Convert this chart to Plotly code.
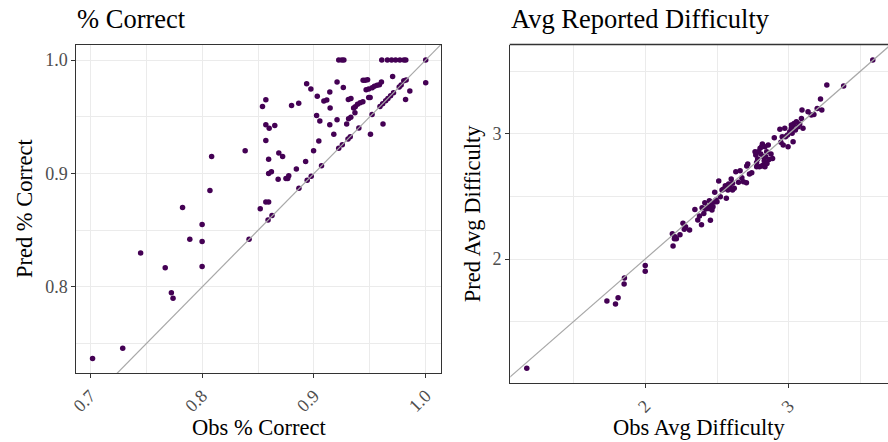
import plotly.graph_objects as go

# ---- Data: % Correct panel ----
obs_correct = [0.702, 0.729, 0.745, 0.767, 0.7725, 0.774, 0.7825, 0.789, 0.800, 0.800,
               0.800, 0.807, 0.8085, 0.8385, 0.842, 0.852, 0.854, 0.857, 0.857, 0.857,
               0.857, 0.8595, 0.859, 0.8625, 0.860, 0.8595, 0.8595, 0.862, 0.865, 0.868,
               0.8686, 0.872, 0.875, 0.8766, 0.8775, 0.880, 0.8843, 0.8864, 0.8866, 0.8926,
               0.8935, 0.894, 0.8976, 0.8973, 0.8997, 0.9024, 0.903, 0.9044, 0.9053, 0.9068,
               0.9089, 0.9115, 0.9142, 0.9145, 0.9142, 0.9178, 0.9222, 0.925, 0.9268, 0.9207,
               0.9207, 0.9263, 0.9222, 0.9254, 0.9305, 0.9325, 0.9293, 0.931, 0.933, 0.9308,
               0.9331, 0.9355, 0.937, 0.939, 0.9367, 0.9402, 0.9414, 0.9438, 0.944, 0.9459,
               0.948, 0.9467, 0.949, 0.949, 0.9503, 0.9506, 0.952, 0.9521, 0.9541, 0.9565,
               0.9586, 0.9604, 0.9607, 0.9618, 0.9591, 0.9615, 0.9642, 0.9662, 0.9686, 0.9712,
               0.9763, 0.978, 0.9804, 0.9825, 0.9657, 0.9695, 0.9731, 0.9769, 0.9805, 0.9822,
               0.9704, 0.982, 0.9858, 1.0, 1.0]
pred_correct = [0.737, 0.746, 0.830, 0.817, 0.795, 0.790, 0.870, 0.842, 0.855, 0.840,
                0.818, 0.885, 0.915, 0.920, 0.842, 0.869, 0.959, 0.965, 0.943, 0.929,
                0.875, 0.875, 0.859, 0.863, 0.940, 0.9125, 0.900, 0.9016, 0.9424, 0.895,
                0.918, 0.915, 0.8957, 0.8957, 0.898, 0.960, 0.904, 0.962, 0.887, 0.9107,
                0.979, 0.894, 0.8976, 0.9744, 0.920, 0.9512, 0.968, 0.9286, 0.9463, 0.9068,
                0.9639, 0.9648, 0.9718, 0.9577, 0.943, 0.9345, 1.0, 1.0, 1.0, 0.9806,
                0.9474, 0.9759, 0.9222, 0.9254, 0.9305, 0.9325, 0.9436, 0.9483, 0.9495, 0.9653,
                0.9662, 0.9577, 0.9589, 0.961, 0.9536, 0.9402, 0.9624, 0.9633, 0.9821, 0.9821,
                0.9827, 0.9739, 0.9744, 0.9671, 0.9671, 0.9345, 0.952, 0.9756, 0.9768, 0.9777,
                0.9783, 0.9806, 1.0, 0.9436, 0.9591, 0.9615, 0.9642, 0.9662, 0.9686, 0.9712,
                0.9763, 0.978, 0.9818, 0.9825, 1.0, 1.0, 1.0, 1.0, 1.0, 1.0,
                0.9856, 0.9653, 0.9727, 1.0, 0.98]

# ---- Data: Avg Reported Difficulty panel ----
obs_diff = [1.175, 1.733, 1.793, 1.811, 1.853, 1.855, 2.0, 2.0,
            2.189, 2.194, 2.203, 2.217, 2.207, 2.242, 2.263, 2.272, 2.281, 2.309,
            2.346, 2.366, 2.378, 2.392, 2.396, 2.408, 2.415, 2.422, 2.433, 2.454,
            2.447, 2.459, 2.465, 2.472, 2.482, 2.484, 2.500, 2.512, 2.523, 2.535,
            2.546, 2.558, 2.569, 2.581, 2.592, 2.565, 2.599, 2.608, 2.620, 2.631,
            2.650, 2.661, 2.673, 2.684, 2.707, 2.714, 2.705, 2.726, 2.742, 2.770,
            2.776, 2.783, 2.788, 2.800, 2.795, 2.811, 2.823, 2.816, 2.834, 2.829,
            2.839, 2.846, 2.857, 2.862, 2.876, 2.887, 2.899, 2.938, 2.972, 2.945,
            2.961, 2.977, 2.991, 2.995, 3.007, 3.018, 3.030, 3.037, 3.030, 3.046,
            3.065, 3.088, 3.099, 3.092, 3.134, 3.157, 3.175, 3.198, 3.221, 3.230,
            3.265, 3.382, 3.585,
            2.765, 2.806, 2.823, 2.776, 2.834, 2.848, 2.811, 2.442, 2.493, 2.576,
            2.585, 2.608, 3.018, 3.053, 3.076, 3.023, 2.954]
pred_diff = [1.128, 1.665, 1.641, 1.691, 1.800, 1.848, 1.949, 1.902,
             2.202, 2.104, 2.162, 2.162, 2.178, 2.194, 2.285, 2.237, 2.258, 2.231,
             2.396, 2.311, 2.343, 2.274, 2.410, 2.364, 2.449, 2.399, 2.418, 2.309,
             2.465, 2.431, 2.391, 2.418, 2.455, 2.532, 2.457, 2.622, 2.497, 2.551,
             2.559, 2.585, 2.577, 2.598, 2.564, 2.484, 2.638, 2.604, 2.564, 2.697,
             2.612, 2.705, 2.649, 2.617, 2.742, 2.758, 2.609, 2.678, 2.689, 2.830,
             2.771, 2.798, 2.856, 2.883, 2.737, 2.742, 2.750, 2.917, 2.896, 2.785,
             2.816, 2.856, 2.910, 2.795, 2.838, 2.803, 2.968, 3.035, 3.043, 2.931,
             2.910, 2.976, 2.989, 2.896, 3.016, 3.043, 3.069, 3.082, 2.936, 3.029,
             3.056, 3.122, 3.043, 3.189, 3.176, 3.149, 3.154, 3.202, 3.277, 3.189,
             3.388, 3.380, 3.588,
             2.856, 2.838, 2.816, 2.737, 2.737, 2.763, 2.896, 2.404, 2.471, 2.551,
             2.577, 2.551, 3.069, 3.096, 3.077, 3.003, 2.976]

W, H = 888, 442
FONT = "Liberation Serif"
PURPLE = "#440154"
GRID = "#EBEBEB"
BORDER = "#333333"

fig = go.Figure()
fig.add_trace(go.Scatter(x=obs_correct, y=pred_correct, mode="markers",
                         marker=dict(size=5.5, color=PURPLE), xaxis="x", yaxis="y",
                         showlegend=False, hoverinfo="skip"))
fig.add_trace(go.Scatter(x=[0.5, 1.2], y=[0.5, 1.2], mode="lines",
                         line=dict(color="#A8A8A8", width=1.2), xaxis="x", yaxis="y",
                         showlegend=False, hoverinfo="skip"))
fig.add_trace(go.Scatter(x=obs_diff, y=pred_diff, mode="markers",
                         marker=dict(size=5.5, color=PURPLE), xaxis="x2", yaxis="y2",
                         showlegend=False, hoverinfo="skip"))
fig.add_trace(go.Scatter(x=[0.5, 4.5], y=[0.5, 4.5], mode="lines",
                         line=dict(color="#A8A8A8", width=1.2), xaxis="x2", yaxis="y2",
                         showlegend=False, hoverinfo="skip"))

tickfont = dict(family=FONT, size=18, color="#4D4D4D")
common = dict(showgrid=True, gridcolor=GRID, gridwidth=1.1, zeroline=False,
              ticks="outside", ticklen=4, tickwidth=1, tickcolor=BORDER,
              tickfont=tickfont, showline=True, linecolor=BORDER, linewidth=1.3)

def px_x(p):
    return p / W

def px_y(p):
    return 1 - p / H

fig.update_layout(
    width=W, height=H, margin=dict(l=0, r=0, t=0, b=0),
    paper_bgcolor="white", plot_bgcolor="white",
    xaxis=dict(domain=[px_x(70), px_x(437.7)], range=[0.6876, 1.0139],
               tickvals=[0.7, 0.8, 0.9, 1.0], ticktext=["0.7", "0.8", "0.9", "1.0"],
               tickangle=-45, mirror=True, anchor="y",
               minor=dict(tickvals=[0.75, 0.85, 0.95], showgrid=True, gridcolor=GRID,
                          gridwidth=0.6, ticks=""),
               **common),
    yaxis=dict(domain=[px_y(373), px_y(44.5)], range=[0.7242, 1.0137],
               tickvals=[0.8, 0.9, 1.0], ticktext=["0.8", "0.9", "1.0"],
               mirror=True, anchor="x",
               minor=dict(tickvals=[0.75, 0.85, 0.95], showgrid=True, gridcolor=GRID,
                          gridwidth=0.6, ticks=""),
               **common),
    xaxis2=dict(domain=[px_x(507.3), 1.0], range=[1.0601, 3.6911],
                tickvals=[2, 3], ticktext=["2", "3"], tickangle=-45,
                mirror=False, anchor="y2",
                minor=dict(tickvals=[1.5, 2.5, 3.5], showgrid=True, gridcolor=GRID,
                           gridwidth=0.6, ticks=""),
                **common),
    yaxis2=dict(domain=[px_y(383.3), px_y(44.5)], range=[1.008, 3.712],
                tickvals=[2, 3], ticktext=["2", "3"], anchor="x2", mirror=False,
                minor=dict(tickvals=[1.5, 2.5, 3.5], showgrid=True, gridcolor=GRID,
                           gridwidth=0.6, ticks=""),
                **common),
    shapes=[dict(type="line", xref="paper", yref="paper",
                 x0=px_x(506.7), x1=1.0, y0=px_y(44.5), y1=px_y(44.5),
                 line=dict(color=BORDER, width=1.3))],
)

ann = []
ann.append(dict(text="% Correct", x=px_x(69), y=px_y(19), xref="paper", yref="paper",
                xanchor="left", yanchor="middle", showarrow=False,
                font=dict(family=FONT, size=26.5, color="black")))
ann.append(dict(text="Avg Reported Difficulty", x=px_x(506), y=px_y(19), xref="paper",
                yref="paper", xanchor="left", yanchor="middle", showarrow=False,
                font=dict(family=FONT, size=26.5, color="black")))
ann.append(dict(text="Obs % Correct", x=px_x(253.9), y=px_y(427), xref="paper", yref="paper",
                xanchor="center", yanchor="middle", showarrow=False,
                font=dict(family=FONT, size=22.5, color="black")))
ann.append(dict(text="Obs Avg Difficulty", x=px_x(697.7), y=px_y(427), xref="paper",
                yref="paper", xanchor="center", yanchor="middle", showarrow=False,
                font=dict(family=FONT, size=22.5, color="black")))
ann.append(dict(text="Pred % Correct", x=px_x(17.5), y=px_y(208.7), xref="paper",
                yref="paper", xanchor="center", yanchor="middle", showarrow=False,
                textangle=-90, font=dict(family=FONT, size=22.5, color="black")))
ann.append(dict(text="Pred Avg Difficulty", x=px_x(470), y=px_y(213.9), xref="paper",
                yref="paper", xanchor="center", yanchor="middle", showarrow=False,
                textangle=-90, font=dict(family=FONT, size=22.5, color="black")))
fig.update_layout(annotations=ann)

fig.write_html("out.html")
